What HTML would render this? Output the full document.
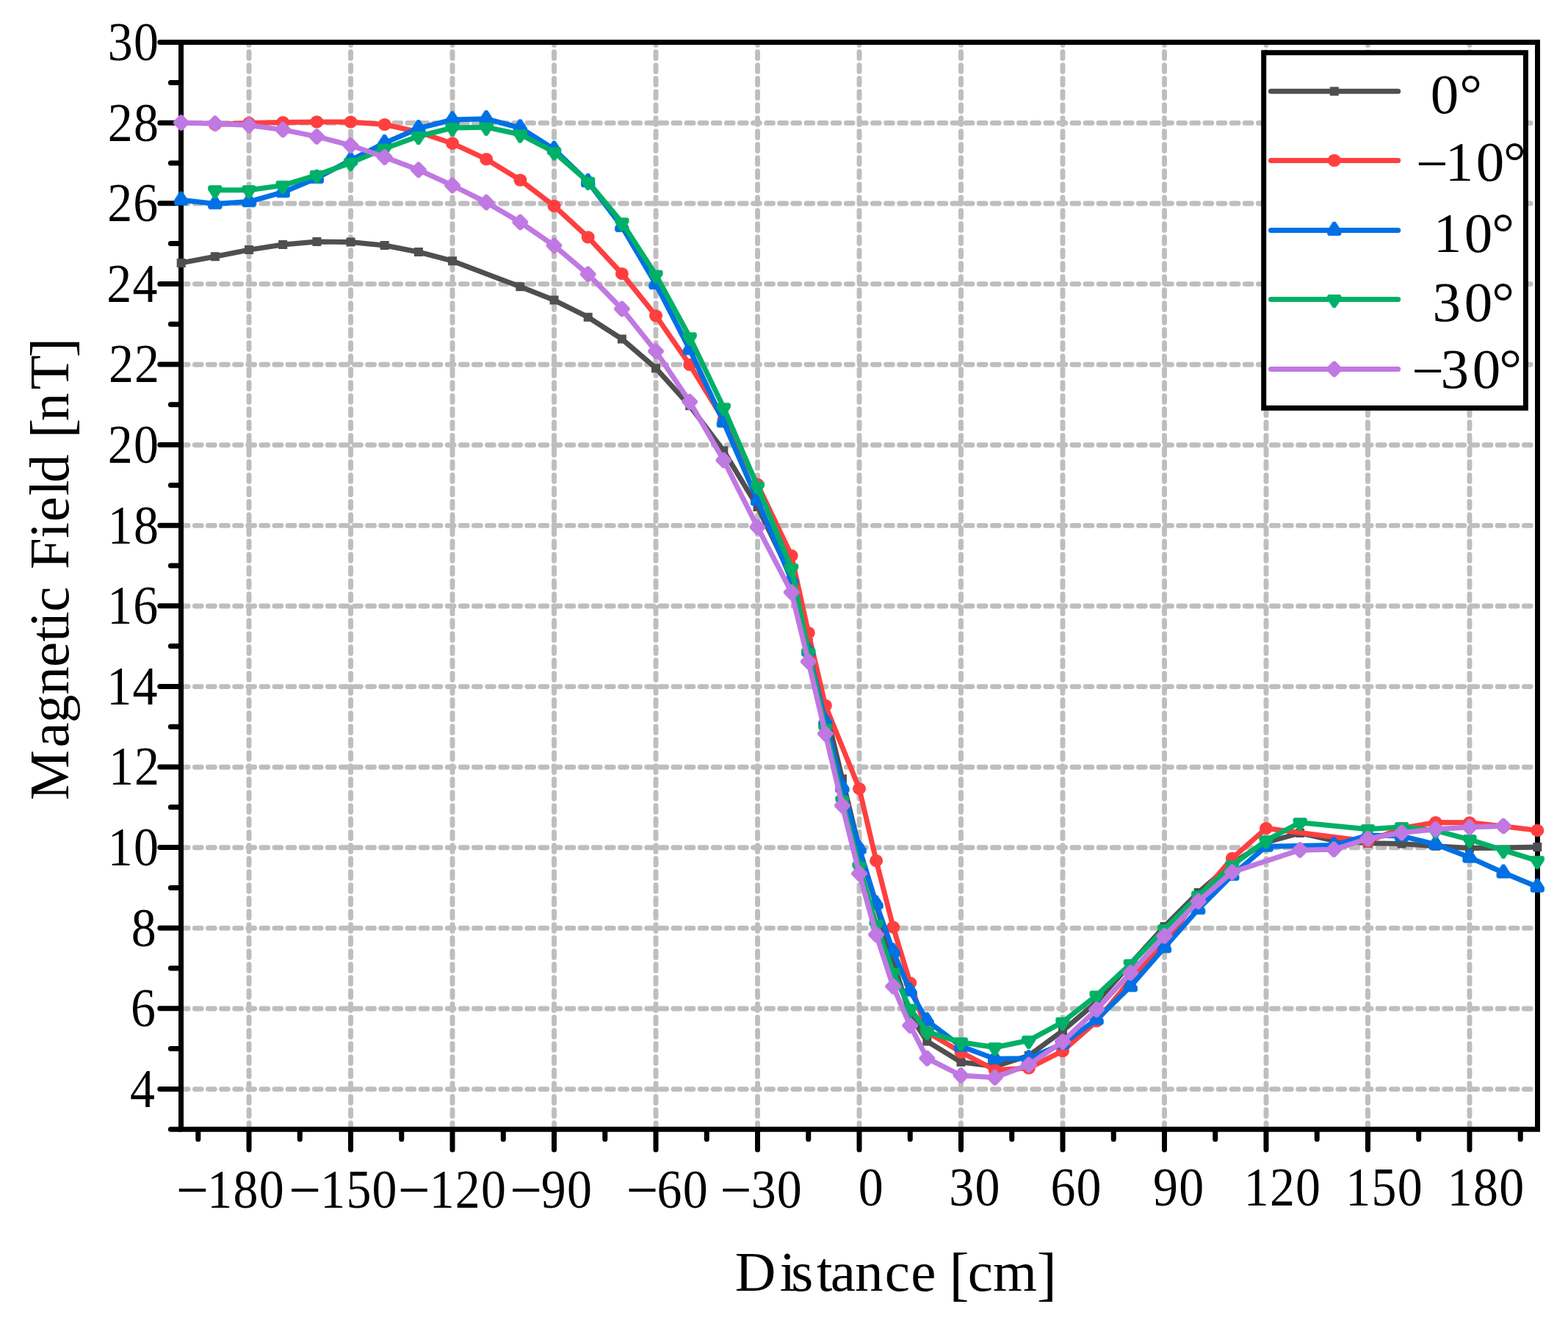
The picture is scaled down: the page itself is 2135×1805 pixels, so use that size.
<!DOCTYPE html>
<html lang="en"><head><meta charset="utf-8"><title>Magnetic Field vs Distance</title>
<style>html,body{margin:0;padding:0;background:#fff}body{width:2135px;height:1805px;overflow:hidden}svg{display:block}text{font-family:"Liberation Serif","Times New Roman",serif;fill:#000;white-space:pre}</style>
</head><body>
<svg width="2135" height="1805" viewBox="0 0 2135 1805" role="img" aria-label="Magnetic Field [nT] versus Distance [cm]">
<rect width="2135" height="1805" fill="#fff"/>
<defs><clipPath id="plot"><rect x="246.5" y="57.6" width="1847" height="1479.6"/></clipPath></defs>
<g clip-path="url(#plot)" stroke="#bebebe" stroke-width="6.9" stroke-linecap="round" fill="none">
<path stroke-dasharray="8.8 9.2" d="M339.03 52.6V1537.2"/>
<path stroke-dasharray="8.8 9.2" d="M477.52 52.6V1537.2"/>
<path stroke-dasharray="8.8 9.2" d="M616.02 52.6V1537.2"/>
<path stroke-dasharray="8.8 9.2" d="M754.51 52.6V1537.2"/>
<path stroke-dasharray="8.8 9.2" d="M893.01 52.6V1537.2"/>
<path stroke-dasharray="8.8 9.2" d="M1031.51 52.6V1537.2"/>
<path stroke-dasharray="8.8 9.2" d="M1170 52.6V1537.2"/>
<path stroke-dasharray="8.8 9.2" d="M1308.49 52.6V1537.2"/>
<path stroke-dasharray="8.8 9.2" d="M1446.99 52.6V1537.2"/>
<path stroke-dasharray="8.8 9.2" d="M1585.49 52.6V1537.2"/>
<path stroke-dasharray="8.8 9.2" d="M1723.98 52.6V1537.2"/>
<path stroke-dasharray="8.8 9.2" d="M1862.47 52.6V1537.2"/>
<path stroke-dasharray="8.8 9.2" d="M2000.97 52.6V1537.2"/>
<path stroke-dasharray="8.9 9.2" d="M247.2 1482.6H2087.5"/>
<path stroke-dasharray="8.9 9.2" d="M247.2 1373H2087.5"/>
<path stroke-dasharray="8.9 9.2" d="M247.2 1263.4H2087.5"/>
<path stroke-dasharray="8.9 9.2" d="M247.2 1153.8H2087.5"/>
<path stroke-dasharray="8.9 9.2" d="M247.2 1044.2H2087.5"/>
<path stroke-dasharray="8.9 9.2" d="M247.2 934.6H2087.5"/>
<path stroke-dasharray="8.9 9.2" d="M247.2 825H2087.5"/>
<path stroke-dasharray="8.9 9.2" d="M247.2 715.4H2087.5"/>
<path stroke-dasharray="8.9 9.2" d="M247.2 605.8H2087.5"/>
<path stroke-dasharray="8.9 9.2" d="M247.2 496.2H2087.5"/>
<path stroke-dasharray="8.9 9.2" d="M247.2 386.6H2087.5"/>
<path stroke-dasharray="8.9 9.2" d="M247.2 277H2087.5"/>
<path stroke-dasharray="8.9 9.2" d="M247.2 167.4H2087.5"/>
</g>
<g stroke="#000" stroke-width="7" stroke-linecap="round" stroke-linejoin="miter" fill="none">
<path d="M246.5 57.6V1537.2H2093.5V57.6z"/>
<path d="M245.5 1482.4H217.8M245.5 1372.8H217.8M245.5 1263.2H217.8M245.5 1153.6H217.8M245.5 1044H217.8M245.5 934.4H217.8M245.5 824.8H217.8M245.5 715.2H217.8M245.5 605.6H217.8M245.5 496H217.8M245.5 386.4H217.8M245.5 276.8H217.8M245.5 167.2H217.8M245.5 57.6H217.8M245.5 1537.2H232.4M245.5 1427.6H232.4M245.5 1318H232.4M245.5 1208.4H232.4M245.5 1098.8H232.4M245.5 989.2H232.4M245.5 879.6H232.4M245.5 770H232.4M245.5 660.4H232.4M245.5 550.8H232.4M245.5 441.2H232.4M245.5 331.6H232.4M245.5 222H232.4M245.5 112.4H232.4M339.03 1538.2V1565.1M477.52 1538.2V1565.1M616.02 1538.2V1565.1M754.51 1538.2V1565.1M893.01 1538.2V1565.1M1031.51 1538.2V1565.1M1170 1538.2V1565.1M1308.49 1538.2V1565.1M1446.99 1538.2V1565.1M1585.49 1538.2V1565.1M1723.98 1538.2V1565.1M1862.47 1538.2V1565.1M2000.97 1538.2V1565.1M269.78 1538.2V1550.8M408.28 1538.2V1550.8M546.77 1538.2V1550.8M685.27 1538.2V1550.8M823.76 1538.2V1550.8M962.26 1538.2V1550.8M1100.75 1538.2V1550.8M1239.25 1538.2V1550.8M1377.74 1538.2V1550.8M1516.24 1538.2V1550.8M1654.73 1538.2V1550.8M1793.23 1538.2V1550.8M1931.72 1538.2V1550.8M2070.22 1538.2V1550.8"/>
</g>
<g fill="#4f4f4f" stroke="#4f4f4f" stroke-linejoin="round" stroke-linecap="round">
<polyline fill="none" stroke-width="7" points="246.7,357.9 292.86,349.2 339.03,340.1 385.19,333 431.36,329.1 477.52,329.5 523.69,334 569.86,343 616.02,355.2 708.35,390.2 754.51,408.6 800.68,431.7 846.85,461.5 893.01,501.2 939.17,552.3 985.34,613.6 1031.51,690 1077.67,785 1100.75,875 1123.84,965 1146.92,1060.2 1170,1155 1193.08,1232 1216.16,1309 1239.25,1382 1262.33,1417.5 1308.49,1445.7 1354.66,1451.6 1400.83,1437 1446.99,1403.1 1493.15,1364 1539.32,1312 1585.49,1261.2 1631.65,1214.9 1677.82,1175 1723.98,1146.7 1770.14,1134 1816.31,1144.4 1862.47,1147.7 1908.64,1148.4 1954.81,1151.8 2000.97,1154.5 2047.14,1154 2093.3,1152.9"/>
<path stroke-width="0" d="M240.7 351.9h12v12h-12zM286.86 343.2h12v12h-12zM333.03 334.1h12v12h-12zM379.19 327h12v12h-12zM425.36 323.1h12v12h-12zM471.52 323.5h12v12h-12zM517.69 328h12v12h-12zM563.86 337h12v12h-12zM610.02 349.2h12v12h-12zM702.35 384.2h12v12h-12zM748.51 402.6h12v12h-12zM794.68 425.7h12v12h-12zM840.85 455.5h12v12h-12zM887.01 495.2h12v12h-12zM933.17 546.3h12v12h-12zM979.34 607.6h12v12h-12zM1025.51 684h12v12h-12zM1071.67 779h12v12h-12zM1094.75 869h12v12h-12zM1117.84 959h12v12h-12zM1140.92 1054.2h12v12h-12zM1164 1149h12v12h-12zM1187.08 1226h12v12h-12zM1210.16 1303h12v12h-12zM1233.25 1376h12v12h-12zM1256.33 1411.5h12v12h-12zM1302.49 1439.7h12v12h-12zM1348.66 1445.6h12v12h-12zM1394.83 1431h12v12h-12zM1440.99 1397.1h12v12h-12zM1487.15 1358h12v12h-12zM1533.32 1306h12v12h-12zM1579.49 1255.2h12v12h-12zM1625.65 1208.9h12v12h-12zM1671.82 1169h12v12h-12zM1717.98 1140.7h12v12h-12zM1764.14 1128h12v12h-12zM1810.31 1138.4h12v12h-12zM1856.47 1141.7h12v12h-12zM1902.64 1142.4h12v12h-12zM1948.81 1145.8h12v12h-12zM1994.97 1148.5h12v12h-12zM2087.3 1146.9h12v12h-12z"/>
</g>
<g fill="#ff3f3f" stroke="#ff3f3f" stroke-linejoin="round" stroke-linecap="round">
<polyline fill="none" stroke-width="7" points="292.86,169.5 339.03,167.6 385.19,166.6 431.36,165.9 477.52,166 523.69,169.5 569.86,179.7 616.02,195.2 662.18,216.7 708.35,245.1 754.51,280.4 800.68,322.8 846.85,372.5 893.01,429.8 939.17,496.4 985.34,571.6 1031.51,659.4 1077.67,756.3 1100.75,861.4 1123.84,960.4 1170,1073.5 1193.08,1171.7 1216.16,1262.2 1239.25,1338 1262.33,1405 1308.49,1432.3 1354.66,1456.5 1400.83,1453.9 1446.99,1430.7 1493.15,1390 1539.32,1334 1585.49,1284 1631.65,1222 1677.82,1168.3 1723.98,1127.5 1862.47,1145.2 1908.64,1127.5 1954.81,1119.5 2000.97,1119.8 2047.14,1124.8 2093.3,1130.4"/>
<path stroke-width="0" d="M283.86 169.5a9.0 8.6 0 1 0 18 0a9.0 8.6 0 1 0 -18 0zM330.03 167.6a9.0 8.6 0 1 0 18 0a9.0 8.6 0 1 0 -18 0zM376.19 166.6a9.0 8.6 0 1 0 18 0a9.0 8.6 0 1 0 -18 0zM422.36 165.9a9.0 8.6 0 1 0 18 0a9.0 8.6 0 1 0 -18 0zM468.52 166a9.0 8.6 0 1 0 18 0a9.0 8.6 0 1 0 -18 0zM514.69 169.5a9.0 8.6 0 1 0 18 0a9.0 8.6 0 1 0 -18 0zM560.86 179.7a9.0 8.6 0 1 0 18 0a9.0 8.6 0 1 0 -18 0zM607.02 195.2a9.0 8.6 0 1 0 18 0a9.0 8.6 0 1 0 -18 0zM653.18 216.7a9.0 8.6 0 1 0 18 0a9.0 8.6 0 1 0 -18 0zM699.35 245.1a9.0 8.6 0 1 0 18 0a9.0 8.6 0 1 0 -18 0zM745.51 280.4a9.0 8.6 0 1 0 18 0a9.0 8.6 0 1 0 -18 0zM791.68 322.8a9.0 8.6 0 1 0 18 0a9.0 8.6 0 1 0 -18 0zM837.85 372.5a9.0 8.6 0 1 0 18 0a9.0 8.6 0 1 0 -18 0zM884.01 429.8a9.0 8.6 0 1 0 18 0a9.0 8.6 0 1 0 -18 0zM930.17 496.4a9.0 8.6 0 1 0 18 0a9.0 8.6 0 1 0 -18 0zM976.34 571.6a9.0 8.6 0 1 0 18 0a9.0 8.6 0 1 0 -18 0zM1022.51 659.4a9.0 8.6 0 1 0 18 0a9.0 8.6 0 1 0 -18 0zM1068.67 756.3a9.0 8.6 0 1 0 18 0a9.0 8.6 0 1 0 -18 0zM1091.75 861.4a9.0 8.6 0 1 0 18 0a9.0 8.6 0 1 0 -18 0zM1114.84 960.4a9.0 8.6 0 1 0 18 0a9.0 8.6 0 1 0 -18 0zM1161 1073.5a9.0 8.6 0 1 0 18 0a9.0 8.6 0 1 0 -18 0zM1184.08 1171.7a9.0 8.6 0 1 0 18 0a9.0 8.6 0 1 0 -18 0zM1207.16 1262.2a9.0 8.6 0 1 0 18 0a9.0 8.6 0 1 0 -18 0zM1230.25 1338a9.0 8.6 0 1 0 18 0a9.0 8.6 0 1 0 -18 0zM1253.33 1405a9.0 8.6 0 1 0 18 0a9.0 8.6 0 1 0 -18 0zM1299.49 1432.3a9.0 8.6 0 1 0 18 0a9.0 8.6 0 1 0 -18 0zM1345.66 1456.5a9.0 8.6 0 1 0 18 0a9.0 8.6 0 1 0 -18 0zM1391.83 1453.9a9.0 8.6 0 1 0 18 0a9.0 8.6 0 1 0 -18 0zM1437.99 1430.7a9.0 8.6 0 1 0 18 0a9.0 8.6 0 1 0 -18 0zM1484.15 1390a9.0 8.6 0 1 0 18 0a9.0 8.6 0 1 0 -18 0zM1530.32 1334a9.0 8.6 0 1 0 18 0a9.0 8.6 0 1 0 -18 0zM1576.49 1284a9.0 8.6 0 1 0 18 0a9.0 8.6 0 1 0 -18 0zM1622.65 1222a9.0 8.6 0 1 0 18 0a9.0 8.6 0 1 0 -18 0zM1668.82 1168.3a9.0 8.6 0 1 0 18 0a9.0 8.6 0 1 0 -18 0zM1714.98 1127.5a9.0 8.6 0 1 0 18 0a9.0 8.6 0 1 0 -18 0zM1853.47 1145.2a9.0 8.6 0 1 0 18 0a9.0 8.6 0 1 0 -18 0zM1899.64 1127.5a9.0 8.6 0 1 0 18 0a9.0 8.6 0 1 0 -18 0zM1945.81 1119.5a9.0 8.6 0 1 0 18 0a9.0 8.6 0 1 0 -18 0zM1991.97 1119.8a9.0 8.6 0 1 0 18 0a9.0 8.6 0 1 0 -18 0zM2038.14 1124.8a9.0 8.6 0 1 0 18 0a9.0 8.6 0 1 0 -18 0zM2084.3 1130.4a9.0 8.6 0 1 0 18 0a9.0 8.6 0 1 0 -18 0z"/>
</g>
<g fill="#0070e4" stroke="#0070e4" stroke-linejoin="round" stroke-linecap="round">
<polyline fill="none" stroke-width="7" points="246.7,272.1 292.86,277.5 339.03,274.6 385.19,261.7 431.36,242.4 477.52,218.1 523.69,194.6 569.86,174.7 616.02,163 662.18,161.8 708.35,174 754.51,203.3 800.68,247.6 846.85,308.5 893.01,386.6 939.17,475.8 985.34,574.7 1031.51,681 1077.67,789.3 1100.75,886.2 1123.84,982.3 1146.92,1071.8 1170,1155.1 1193.08,1230.1 1216.16,1295.1 1239.25,1349 1262.33,1389.5 1308.49,1424.2 1354.66,1441.3 1400.83,1440.7 1446.99,1420.9 1493.15,1387.7 1539.32,1342.8 1585.49,1289.8 1631.65,1237.5 1677.82,1191.3 1723.98,1152.2 1816.31,1150.5 1862.47,1137 1908.64,1138.1 1954.81,1149.3 2000.97,1167.1 2047.14,1188.1 2093.3,1207.3"/>
<path stroke-width="0.8" d="M245.1 260.9L248.3 260.9L255.9 272.7L255.9 277.7L254.3 279.2L239.1 279.2L237.5 277.7L237.5 272.7zM291.26 266.3L294.46 266.3L302.06 278.1L302.06 283.1L300.46 284.6L285.26 284.6L283.66 283.1L283.66 278.1zM337.43 263.4L340.63 263.4L348.23 275.2L348.23 280.2L346.63 281.7L331.43 281.7L329.83 280.2L329.83 275.2zM383.59 250.5L386.79 250.5L394.39 262.3L394.39 267.3L392.79 268.8L377.59 268.8L375.99 267.3L375.99 262.3zM429.76 231.2L432.96 231.2L440.56 243L440.56 248L438.96 249.5L423.76 249.5L422.16 248L422.16 243zM475.92 206.9L479.12 206.9L486.72 218.7L486.72 223.7L485.12 225.2L469.92 225.2L468.32 223.7L468.32 218.7zM522.09 183.4L525.29 183.4L532.89 195.2L532.89 200.2L531.29 201.7L516.09 201.7L514.49 200.2L514.49 195.2zM568.25 163.5L571.46 163.5L579.06 175.3L579.06 180.3L577.46 181.8L562.25 181.8L560.65 180.3L560.65 175.3zM614.42 151.8L617.62 151.8L625.22 163.6L625.22 168.6L623.62 170.1L608.42 170.1L606.82 168.6L606.82 163.6zM660.58 150.6L663.78 150.6L671.38 162.4L671.38 167.4L669.78 168.9L654.58 168.9L652.98 167.4L652.98 162.4zM706.75 162.8L709.95 162.8L717.55 174.6L717.55 179.6L715.95 181.1L700.75 181.1L699.15 179.6L699.15 174.6zM752.91 192.1L756.12 192.1L763.72 203.9L763.72 208.9L762.12 210.4L746.91 210.4L745.31 208.9L745.31 203.9zM799.08 236.4L802.28 236.4L809.88 248.2L809.88 253.2L808.28 254.7L793.08 254.7L791.48 253.2L791.48 248.2zM845.25 297.3L848.45 297.3L856.05 309.1L856.05 314.1L854.45 315.6L839.25 315.6L837.64 314.1L837.64 309.1zM891.41 375.4L894.61 375.4L902.21 387.2L902.21 392.2L900.61 393.7L885.41 393.7L883.81 392.2L883.81 387.2zM937.57 464.6L940.77 464.6L948.38 476.4L948.38 481.4L946.77 482.9L931.57 482.9L929.97 481.4L929.97 476.4zM983.74 563.5L986.94 563.5L994.54 575.3L994.54 580.3L992.94 581.8L977.74 581.8L976.14 580.3L976.14 575.3zM1029.91 669.8L1033.11 669.8L1040.71 681.6L1040.71 686.6L1039.11 688.1L1023.91 688.1L1022.31 686.6L1022.31 681.6zM1076.07 778.1L1079.27 778.1L1086.87 789.9L1086.87 794.9L1085.27 796.4L1070.07 796.4L1068.47 794.9L1068.47 789.9zM1099.15 875L1102.35 875L1109.95 886.8L1109.95 891.8L1108.35 893.3L1093.15 893.3L1091.55 891.8L1091.55 886.8zM1122.24 971.1L1125.43 971.1L1133.04 982.9L1133.04 987.9L1131.43 989.4L1116.24 989.4L1114.63 987.9L1114.63 982.9zM1145.32 1060.6L1148.52 1060.6L1156.12 1072.4L1156.12 1077.4L1154.52 1078.9L1139.32 1078.9L1137.72 1077.4L1137.72 1072.4zM1168.4 1143.9L1171.6 1143.9L1179.2 1155.7L1179.2 1160.7L1177.6 1162.2L1162.4 1162.2L1160.8 1160.7L1160.8 1155.7zM1191.48 1218.9L1194.68 1218.9L1202.28 1230.7L1202.28 1235.7L1200.68 1237.2L1185.48 1237.2L1183.88 1235.7L1183.88 1230.7zM1214.57 1283.9L1217.76 1283.9L1225.37 1295.7L1225.37 1300.7L1223.76 1302.2L1208.57 1302.2L1206.96 1300.7L1206.96 1295.7zM1237.65 1337.8L1240.85 1337.8L1248.45 1349.6L1248.45 1354.6L1246.85 1356.1L1231.65 1356.1L1230.05 1354.6L1230.05 1349.6zM1260.73 1378.3L1263.93 1378.3L1271.53 1390.1L1271.53 1395.1L1269.93 1396.6L1254.73 1396.6L1253.13 1395.1L1253.13 1390.1zM1306.89 1413L1310.09 1413L1317.69 1424.8L1317.69 1429.8L1316.09 1431.3L1300.89 1431.3L1299.29 1429.8L1299.29 1424.8zM1353.06 1430.1L1356.26 1430.1L1363.86 1441.9L1363.86 1446.9L1362.26 1448.4L1347.06 1448.4L1345.46 1446.9L1345.46 1441.9zM1399.23 1429.5L1402.42 1429.5L1410.03 1441.3L1410.03 1446.3L1408.42 1447.8L1393.23 1447.8L1391.62 1446.3L1391.62 1441.3zM1445.39 1409.7L1448.59 1409.7L1456.19 1421.5L1456.19 1426.5L1454.59 1428L1439.39 1428L1437.79 1426.5L1437.79 1421.5zM1491.56 1376.5L1494.75 1376.5L1502.36 1388.3L1502.36 1393.3L1500.75 1394.8L1485.56 1394.8L1483.95 1393.3L1483.95 1388.3zM1537.72 1331.6L1540.92 1331.6L1548.52 1343.4L1548.52 1348.4L1546.92 1349.9L1531.72 1349.9L1530.12 1348.4L1530.12 1343.4zM1583.89 1278.6L1587.09 1278.6L1594.69 1290.4L1594.69 1295.4L1593.09 1296.9L1577.89 1296.9L1576.29 1295.4L1576.29 1290.4zM1630.05 1226.3L1633.25 1226.3L1640.85 1238.1L1640.85 1243.1L1639.25 1244.6L1624.05 1244.6L1622.45 1243.1L1622.45 1238.1zM1676.22 1180.1L1679.41 1180.1L1687.02 1191.9L1687.02 1196.9L1685.41 1198.4L1670.22 1198.4L1668.62 1196.9L1668.62 1191.9zM1722.38 1141L1725.58 1141L1733.18 1152.8L1733.18 1157.8L1731.58 1159.3L1716.38 1159.3L1714.78 1157.8L1714.78 1152.8zM1814.71 1139.3L1817.91 1139.3L1825.51 1151.1L1825.51 1156.1L1823.91 1157.6L1808.71 1157.6L1807.11 1156.1L1807.11 1151.1zM1860.88 1125.8L1864.07 1125.8L1871.67 1137.6L1871.67 1142.6L1870.07 1144.1L1854.88 1144.1L1853.27 1142.6L1853.27 1137.6zM1907.04 1126.9L1910.24 1126.9L1917.84 1138.7L1917.84 1143.7L1916.24 1145.2L1901.04 1145.2L1899.44 1143.7L1899.44 1138.7zM1953.21 1138.1L1956.4 1138.1L1964.01 1149.9L1964.01 1154.9L1962.4 1156.4L1947.21 1156.4L1945.61 1154.9L1945.61 1149.9zM1999.37 1155.9L2002.57 1155.9L2010.17 1167.7L2010.17 1172.7L2008.57 1174.2L1993.37 1174.2L1991.77 1172.7L1991.77 1167.7zM2045.54 1176.9L2048.74 1176.9L2056.34 1188.7L2056.34 1193.7L2054.74 1195.2L2039.54 1195.2L2037.94 1193.7L2037.94 1188.7zM2091.7 1196.1L2094.9 1196.1L2102.5 1207.9L2102.5 1212.9L2100.9 1214.4L2085.7 1214.4L2084.1 1212.9L2084.1 1207.9z"/>
</g>
<g fill="#00b066" stroke="#00b066" stroke-linejoin="round" stroke-linecap="round">
<polyline fill="none" stroke-width="7" points="292.86,258.8 339.03,258.8 385.19,252.4 431.36,238.3 477.52,221.6 523.69,202.3 569.86,185.5 616.02,174 662.18,173.2 708.35,183 754.51,206.9 800.68,247.4 846.85,302.9 893.01,374.2 939.17,459 985.34,555 1031.51,662.2 1077.67,773.7 1100.75,888.7 1123.84,991.7 1146.92,1089.7 1170,1179.7 1193.08,1258.6 1216.16,1324 1239.25,1373.2 1262.33,1404.5 1308.49,1418.8 1354.66,1425.8 1400.83,1416.3 1446.99,1391.3 1493.15,1355.1 1539.32,1312.2 1585.49,1265 1631.65,1219.2 1677.82,1178 1723.98,1144 1770.14,1119.7 1862.47,1128.7 1908.64,1125.7 1954.81,1130.7 2000.97,1142.8 2047.14,1157.3 2093.3,1171.6"/>
<path stroke-width="0.8" d="M291.26 270L294.46 270L302.06 258.4L302.06 254L300.66 252.6L285.06 252.6L283.66 254L283.66 258.4zM337.43 270L340.63 270L348.23 258.4L348.23 254L346.83 252.6L331.23 252.6L329.83 254L329.83 258.4zM383.59 263.6L386.79 263.6L394.39 252L394.39 247.6L392.99 246.2L377.39 246.2L375.99 247.6L375.99 252zM429.76 249.5L432.96 249.5L440.56 237.9L440.56 233.5L439.16 232.1L423.56 232.1L422.16 233.5L422.16 237.9zM475.92 232.8L479.12 232.8L486.72 221.2L486.72 216.8L485.32 215.4L469.72 215.4L468.32 216.8L468.32 221.2zM522.09 213.5L525.29 213.5L532.89 201.9L532.89 197.5L531.49 196.1L515.89 196.1L514.49 197.5L514.49 201.9zM568.25 196.7L571.46 196.7L579.06 185.1L579.06 180.7L577.65 179.3L562.06 179.3L560.65 180.7L560.65 185.1zM614.42 185.2L617.62 185.2L625.22 173.6L625.22 169.2L623.82 167.8L608.22 167.8L606.82 169.2L606.82 173.6zM660.58 184.4L663.78 184.4L671.38 172.8L671.38 168.4L669.98 167L654.38 167L652.98 168.4L652.98 172.8zM706.75 194.2L709.95 194.2L717.55 182.6L717.55 178.2L716.15 176.8L700.55 176.8L699.15 178.2L699.15 182.6zM752.91 218.1L756.12 218.1L763.72 206.5L763.72 202.1L762.31 200.7L746.72 200.7L745.31 202.1L745.31 206.5zM799.08 258.6L802.28 258.6L809.88 247L809.88 242.6L808.48 241.2L792.88 241.2L791.48 242.6L791.48 247zM845.25 314.1L848.45 314.1L856.05 302.5L856.05 298.1L854.64 296.7L839.05 296.7L837.64 298.1L837.64 302.5zM891.41 385.4L894.61 385.4L902.21 373.8L902.21 369.4L900.81 368L885.21 368L883.81 369.4L883.81 373.8zM937.57 470.2L940.77 470.2L948.38 458.6L948.38 454.2L946.97 452.8L931.38 452.8L929.97 454.2L929.97 458.6zM983.74 566.2L986.94 566.2L994.54 554.6L994.54 550.2L993.14 548.8L977.54 548.8L976.14 550.2L976.14 554.6zM1029.91 673.4L1033.11 673.4L1040.71 661.8L1040.71 657.4L1039.31 656L1023.71 656L1022.31 657.4L1022.31 661.8zM1076.07 784.9L1079.27 784.9L1086.87 773.3L1086.87 768.9L1085.47 767.5L1069.87 767.5L1068.47 768.9L1068.47 773.3zM1099.15 899.9L1102.35 899.9L1109.95 888.3L1109.95 883.9L1108.55 882.5L1092.95 882.5L1091.55 883.9L1091.55 888.3zM1122.24 1002.9L1125.43 1002.9L1133.04 991.3L1133.04 986.9L1131.63 985.5L1116.04 985.5L1114.63 986.9L1114.63 991.3zM1145.32 1100.9L1148.52 1100.9L1156.12 1089.3L1156.12 1084.9L1154.72 1083.5L1139.12 1083.5L1137.72 1084.9L1137.72 1089.3zM1168.4 1190.9L1171.6 1190.9L1179.2 1179.3L1179.2 1174.9L1177.8 1173.5L1162.2 1173.5L1160.8 1174.9L1160.8 1179.3zM1191.48 1269.8L1194.68 1269.8L1202.28 1258.2L1202.28 1253.8L1200.88 1252.4L1185.28 1252.4L1183.88 1253.8L1183.88 1258.2zM1214.57 1335.2L1217.76 1335.2L1225.37 1323.6L1225.37 1319.2L1223.96 1317.8L1208.37 1317.8L1206.96 1319.2L1206.96 1323.6zM1237.65 1384.4L1240.85 1384.4L1248.45 1372.8L1248.45 1368.4L1247.05 1367L1231.45 1367L1230.05 1368.4L1230.05 1372.8zM1260.73 1415.7L1263.93 1415.7L1271.53 1404.1L1271.53 1399.7L1270.13 1398.3L1254.53 1398.3L1253.13 1399.7L1253.13 1404.1zM1306.89 1430L1310.09 1430L1317.69 1418.4L1317.69 1414L1316.29 1412.6L1300.69 1412.6L1299.29 1414L1299.29 1418.4zM1353.06 1437L1356.26 1437L1363.86 1425.4L1363.86 1421L1362.46 1419.6L1346.86 1419.6L1345.46 1421L1345.46 1425.4zM1399.23 1427.5L1402.42 1427.5L1410.03 1415.9L1410.03 1411.5L1408.62 1410.1L1393.03 1410.1L1391.62 1411.5L1391.62 1415.9zM1445.39 1402.5L1448.59 1402.5L1456.19 1390.9L1456.19 1386.5L1454.79 1385.1L1439.19 1385.1L1437.79 1386.5L1437.79 1390.9zM1491.56 1366.3L1494.75 1366.3L1502.36 1354.7L1502.36 1350.3L1500.95 1348.9L1485.36 1348.9L1483.95 1350.3L1483.95 1354.7zM1537.72 1323.4L1540.92 1323.4L1548.52 1311.8L1548.52 1307.4L1547.12 1306L1531.52 1306L1530.12 1307.4L1530.12 1311.8zM1583.89 1276.2L1587.09 1276.2L1594.69 1264.6L1594.69 1260.2L1593.29 1258.8L1577.69 1258.8L1576.29 1260.2L1576.29 1264.6zM1630.05 1230.4L1633.25 1230.4L1640.85 1218.8L1640.85 1214.4L1639.45 1213L1623.85 1213L1622.45 1214.4L1622.45 1218.8zM1676.22 1189.2L1679.41 1189.2L1687.02 1177.6L1687.02 1173.2L1685.62 1171.8L1670.02 1171.8L1668.62 1173.2L1668.62 1177.6zM1722.38 1155.2L1725.58 1155.2L1733.18 1143.6L1733.18 1139.2L1731.78 1137.8L1716.18 1137.8L1714.78 1139.2L1714.78 1143.6zM1768.55 1130.9L1771.74 1130.9L1779.35 1119.3L1779.35 1114.9L1777.94 1113.5L1762.35 1113.5L1760.94 1114.9L1760.94 1119.3zM1860.88 1139.9L1864.07 1139.9L1871.67 1128.3L1871.67 1123.9L1870.27 1122.5L1854.67 1122.5L1853.27 1123.9L1853.27 1128.3zM1907.04 1136.9L1910.24 1136.9L1917.84 1125.3L1917.84 1120.9L1916.44 1119.5L1900.84 1119.5L1899.44 1120.9L1899.44 1125.3zM1953.21 1141.9L1956.4 1141.9L1964.01 1130.3L1964.01 1125.9L1962.61 1124.5L1947.01 1124.5L1945.61 1125.9L1945.61 1130.3zM1999.37 1154L2002.57 1154L2010.17 1142.4L2010.17 1138L2008.77 1136.6L1993.17 1136.6L1991.77 1138L1991.77 1142.4zM2045.54 1168.5L2048.74 1168.5L2056.34 1156.9L2056.34 1152.5L2054.94 1151.1L2039.34 1151.1L2037.94 1152.5L2037.94 1156.9zM2091.7 1182.8L2094.9 1182.8L2102.5 1171.2L2102.5 1166.8L2101.1 1165.4L2085.5 1165.4L2084.1 1166.8L2084.1 1171.2z"/>
</g>
<g fill="#c078e2" stroke="#c078e2" stroke-linejoin="round" stroke-linecap="round">
<polyline fill="none" stroke-width="7" points="246.7,167 292.86,168.2 339.03,170.5 385.19,176.6 431.36,185.9 477.52,197.9 523.69,213.9 569.86,231.2 616.02,252.4 662.18,275.5 708.35,302.5 754.51,334.3 800.68,373.3 846.85,420.5 893.01,478.1 939.17,546.9 985.34,626.5 1031.51,717.6 1077.67,806.2 1100.75,900.6 1123.84,998.7 1146.92,1096.6 1170,1189.2 1193.08,1272.3 1216.16,1342.8 1239.25,1396 1262.33,1440.6 1308.49,1464 1354.66,1466.7 1400.83,1449.4 1446.99,1417.9 1493.15,1374.2 1539.32,1324.3 1585.49,1274.1 1631.65,1227 1677.82,1187.2 1770.14,1157 1816.31,1156.3 1862.47,1141.7 1908.64,1133.5 1954.81,1128.8 2000.97,1126.1 2047.14,1124.5"/>
<path stroke-width="0.6" d="M245.2 156.5L248.2 156.5L257.2 165.7L257.2 168.3L248.3 177.5L245.1 177.5L236.2 168.3L236.2 165.7zM291.36 157.7L294.36 157.7L303.36 166.9L303.36 169.5L294.46 178.7L291.26 178.7L282.36 169.5L282.36 166.9zM337.53 160L340.53 160L349.53 169.2L349.53 171.8L340.63 181L337.43 181L328.53 171.8L328.53 169.2zM383.69 166.1L386.69 166.1L395.69 175.3L395.69 177.9L386.79 187.1L383.59 187.1L374.69 177.9L374.69 175.3zM429.86 175.4L432.86 175.4L441.86 184.6L441.86 187.2L432.96 196.4L429.76 196.4L420.86 187.2L420.86 184.6zM476.02 187.4L479.02 187.4L488.02 196.6L488.02 199.2L479.12 208.4L475.92 208.4L467.02 199.2L467.02 196.6zM522.19 203.4L525.19 203.4L534.19 212.6L534.19 215.2L525.29 224.4L522.09 224.4L513.19 215.2L513.19 212.6zM568.36 220.7L571.36 220.7L580.36 229.9L580.36 232.5L571.46 241.7L568.25 241.7L559.36 232.5L559.36 229.9zM614.52 241.9L617.52 241.9L626.52 251.1L626.52 253.7L617.62 262.9L614.42 262.9L605.52 253.7L605.52 251.1zM660.68 265L663.68 265L672.68 274.2L672.68 276.8L663.78 286L660.58 286L651.68 276.8L651.68 274.2zM706.85 292L709.85 292L718.85 301.2L718.85 303.8L709.95 313L706.75 313L697.85 303.8L697.85 301.2zM753.01 323.8L756.01 323.8L765.01 333L765.01 335.6L756.12 344.8L752.91 344.8L744.01 335.6L744.01 333zM799.18 362.8L802.18 362.8L811.18 372L811.18 374.6L802.28 383.8L799.08 383.8L790.18 374.6L790.18 372zM845.35 410L848.35 410L857.35 419.2L857.35 421.8L848.45 431L845.25 431L836.35 421.8L836.35 419.2zM891.51 467.6L894.51 467.6L903.51 476.8L903.51 479.4L894.61 488.6L891.41 488.6L882.51 479.4L882.51 476.8zM937.67 536.4L940.67 536.4L949.67 545.6L949.67 548.2L940.77 557.4L937.57 557.4L928.67 548.2L928.67 545.6zM983.84 616L986.84 616L995.84 625.2L995.84 627.8L986.94 637L983.74 637L974.84 627.8L974.84 625.2zM1030.01 707.1L1033.01 707.1L1042.01 716.3L1042.01 718.9L1033.11 728.1L1029.91 728.1L1021.01 718.9L1021.01 716.3zM1076.17 795.7L1079.17 795.7L1088.17 804.9L1088.17 807.5L1079.27 816.7L1076.07 816.7L1067.17 807.5L1067.17 804.9zM1099.25 890.1L1102.25 890.1L1111.25 899.3L1111.25 901.9L1102.35 911.1L1099.15 911.1L1090.25 901.9L1090.25 899.3zM1122.34 988.2L1125.34 988.2L1134.34 997.4L1134.34 1000L1125.43 1009.2L1122.24 1009.2L1113.34 1000L1113.34 997.4zM1145.42 1086.1L1148.42 1086.1L1157.42 1095.3L1157.42 1097.9L1148.52 1107.1L1145.32 1107.1L1136.42 1097.9L1136.42 1095.3zM1168.5 1178.7L1171.5 1178.7L1180.5 1187.9L1180.5 1190.5L1171.6 1199.7L1168.4 1199.7L1159.5 1190.5L1159.5 1187.9zM1191.58 1261.8L1194.58 1261.8L1203.58 1271L1203.58 1273.6L1194.68 1282.8L1191.48 1282.8L1182.58 1273.6L1182.58 1271zM1214.66 1332.3L1217.66 1332.3L1226.66 1341.5L1226.66 1344.1L1217.76 1353.3L1214.57 1353.3L1205.66 1344.1L1205.66 1341.5zM1237.75 1385.5L1240.75 1385.5L1249.75 1394.7L1249.75 1397.3L1240.85 1406.5L1237.65 1406.5L1228.75 1397.3L1228.75 1394.7zM1260.83 1430.1L1263.83 1430.1L1272.83 1439.3L1272.83 1441.9L1263.93 1451.1L1260.73 1451.1L1251.83 1441.9L1251.83 1439.3zM1306.99 1453.5L1309.99 1453.5L1318.99 1462.7L1318.99 1465.3L1310.09 1474.5L1306.89 1474.5L1297.99 1465.3L1297.99 1462.7zM1353.16 1456.2L1356.16 1456.2L1365.16 1465.4L1365.16 1468L1356.26 1477.2L1353.06 1477.2L1344.16 1468L1344.16 1465.4zM1399.33 1438.9L1402.33 1438.9L1411.33 1448.1L1411.33 1450.7L1402.42 1459.9L1399.23 1459.9L1390.33 1450.7L1390.33 1448.1zM1445.49 1407.4L1448.49 1407.4L1457.49 1416.6L1457.49 1419.2L1448.59 1428.4L1445.39 1428.4L1436.49 1419.2L1436.49 1416.6zM1491.65 1363.7L1494.65 1363.7L1503.65 1372.9L1503.65 1375.5L1494.75 1384.7L1491.56 1384.7L1482.65 1375.5L1482.65 1372.9zM1537.82 1313.8L1540.82 1313.8L1549.82 1323L1549.82 1325.6L1540.92 1334.8L1537.72 1334.8L1528.82 1325.6L1528.82 1323zM1583.99 1263.6L1586.99 1263.6L1595.99 1272.8L1595.99 1275.4L1587.09 1284.6L1583.89 1284.6L1574.99 1275.4L1574.99 1272.8zM1630.15 1216.5L1633.15 1216.5L1642.15 1225.7L1642.15 1228.3L1633.25 1237.5L1630.05 1237.5L1621.15 1228.3L1621.15 1225.7zM1676.32 1176.7L1679.32 1176.7L1688.32 1185.9L1688.32 1188.5L1679.41 1197.7L1676.22 1197.7L1667.32 1188.5L1667.32 1185.9zM1768.64 1146.5L1771.64 1146.5L1780.64 1155.7L1780.64 1158.3L1771.74 1167.5L1768.55 1167.5L1759.64 1158.3L1759.64 1155.7zM1814.81 1145.8L1817.81 1145.8L1826.81 1155L1826.81 1157.6L1817.91 1166.8L1814.71 1166.8L1805.81 1157.6L1805.81 1155zM1860.97 1131.2L1863.97 1131.2L1872.97 1140.4L1872.97 1143L1864.07 1152.2L1860.88 1152.2L1851.97 1143L1851.97 1140.4zM1907.14 1123L1910.14 1123L1919.14 1132.2L1919.14 1134.8L1910.24 1144L1907.04 1144L1898.14 1134.8L1898.14 1132.2zM1953.31 1118.3L1956.31 1118.3L1965.31 1127.5L1965.31 1130.1L1956.4 1139.3L1953.21 1139.3L1944.31 1130.1L1944.31 1127.5zM1999.47 1115.6L2002.47 1115.6L2011.47 1124.8L2011.47 1127.4L2002.57 1136.6L1999.37 1136.6L1990.47 1127.4L1990.47 1124.8zM2045.64 1114L2048.64 1114L2057.64 1123.2L2057.64 1125.8L2048.74 1135L2045.54 1135L2036.64 1125.8L2036.64 1123.2z"/>
</g>
<rect x="1720.7" y="71.7" width="356.7" height="483.7" fill="#fff" stroke="#000" stroke-width="7" stroke-linejoin="miter"/>
<g fill="#4f4f4f" stroke="#4f4f4f" stroke-linejoin="round" stroke-linecap="round">
<path fill="none" stroke-width="7" d="M1730.5 124.3H1903.7"/>
<path stroke-width="0" d="M1810.8 118.3h12v12h-12z"/>
</g>
<g fill="#ff3f3f" stroke="#ff3f3f" stroke-linejoin="round" stroke-linecap="round">
<path fill="none" stroke-width="7" d="M1730.5 218.4H1903.7"/>
<path stroke-width="0" d="M1807.8 218.4a9.0 8.6 0 1 0 18 0a9.0 8.6 0 1 0 -18 0z"/>
</g>
<g fill="#0070e4" stroke="#0070e4" stroke-linejoin="round" stroke-linecap="round">
<path fill="none" stroke-width="7" d="M1730.5 313.4H1903.7"/>
<path stroke-width="0.8" d="M1815.2 302.2L1818.4 302.2L1826 314L1826 319L1824.4 320.5L1809.2 320.5L1807.6 319L1807.6 314z"/>
</g>
<g fill="#00b066" stroke="#00b066" stroke-linejoin="round" stroke-linecap="round">
<path fill="none" stroke-width="7" d="M1730.5 407.5H1903.7"/>
<path stroke-width="0.8" d="M1815.2 418.7L1818.4 418.7L1826 407.1L1826 402.7L1824.6 401.3L1809 401.3L1807.6 402.7L1807.6 407.1z"/>
</g>
<g fill="#c078e2" stroke="#c078e2" stroke-linejoin="round" stroke-linecap="round">
<path fill="none" stroke-width="7" d="M1730.5 502.5H1903.7"/>
<path stroke-width="0.6" d="M1815.3 492L1818.3 492L1827.3 501.2L1827.3 503.8L1818.4 513L1815.2 513L1806.3 503.8L1806.3 501.2z"/>
</g>
<text font-size="73" transform="scale(0.93 1)"><tspan x="190.45" y="1506.84">4</tspan></text>
<text font-size="73" transform="scale(0.93 1)"><tspan x="191.48" y="1397.24">6</tspan></text>
<text font-size="73" transform="scale(0.93 1)"><tspan x="192.09" y="1287.64">8</tspan></text>
<text font-size="73" transform="scale(0.93 1)"><tspan x="157.79" y="1178.04">1</tspan><tspan x="195.64" y="1178.04">0</tspan></text>
<text font-size="73" transform="scale(0.93 1)"><tspan x="159.03" y="1068.44">1</tspan><tspan x="196.88" y="1068.44">2</tspan></text>
<text font-size="73" transform="scale(0.93 1)"><tspan x="156.15" y="958.84">1</tspan><tspan x="194" y="958.84">4</tspan></text>
<text font-size="73" transform="scale(0.93 1)"><tspan x="157.18" y="849.24">1</tspan><tspan x="195.03" y="849.24">6</tspan></text>
<text font-size="73" transform="scale(0.93 1)"><tspan x="157.79" y="739.64">1</tspan><tspan x="195.64" y="739.64">8</tspan></text>
<text font-size="73" transform="scale(0.93 1)"><tspan x="157.79" y="630.04">2</tspan><tspan x="195.64" y="630.04">0</tspan></text>
<text font-size="73" transform="scale(0.93 1)"><tspan x="159.03" y="520.44">2</tspan><tspan x="196.88" y="520.44">2</tspan></text>
<text font-size="73" transform="scale(0.93 1)"><tspan x="156.15" y="410.84">2</tspan><tspan x="194" y="410.84">4</tspan></text>
<text font-size="73" transform="scale(0.93 1)"><tspan x="157.18" y="301.24">2</tspan><tspan x="195.03" y="301.24">6</tspan></text>
<text font-size="73" transform="scale(0.93 1)"><tspan x="157.79" y="191.64">2</tspan><tspan x="195.64" y="191.64">8</tspan></text>
<text font-size="73" transform="scale(0.93 1)"><tspan x="157.79" y="82.04">3</tspan><tspan x="195.64" y="82.04">0</tspan></text>
<text font-size="73" transform="scale(0.93 1)"><tspan x="257.96" y="1648.02" font-size="84.11">−</tspan><tspan x="303.53" y="1644.09">1</tspan><tspan x="341.38" y="1644.09">8</tspan><tspan x="379.23" y="1644.09">0</tspan></text>
<text font-size="73" transform="scale(0.93 1)"><tspan x="422.83" y="1647.79" font-size="83.42">−</tspan><tspan x="469.02" y="1644.09">1</tspan><tspan x="506.87" y="1644.09">5</tspan><tspan x="544.72" y="1644.09">0</tspan></text>
<text font-size="73" transform="scale(0.93 1)"><tspan x="582.85" y="1647.71" font-size="83.19">−</tspan><tspan x="628.64" y="1644.09">1</tspan><tspan x="666.49" y="1644.09">2</tspan><tspan x="704.34" y="1644.09">0</tspan></text>
<text font-size="73" transform="scale(0.93 1)"><tspan x="746.49" y="1647.79" font-size="83.42">−</tspan><tspan x="792.34" y="1644.09">9</tspan><tspan x="830.19" y="1644.09">0</tspan></text>
<text font-size="73" transform="scale(0.93 1)"><tspan x="917.04" y="1647.71" font-size="83.19">−</tspan><tspan x="961.79" y="1644.09">6</tspan><tspan x="999.64" y="1644.09">0</tspan></text>
<text font-size="73" transform="scale(0.93 1)"><tspan x="1054.42" y="1647.25" font-size="81.8">−</tspan><tspan x="1099.62" y="1644.09">3</tspan><tspan x="1137.47" y="1644.09">0</tspan></text>
<text font-size="73" transform="scale(0.93 1)"><tspan x="1256.64" y="1640.69">0</tspan></text>
<text font-size="73" transform="scale(0.93 1)"><tspan x="1389.46" y="1640.69">3</tspan><tspan x="1427.31" y="1640.69">0</tspan></text>
<text font-size="73" transform="scale(0.93 1)"><tspan x="1538.08" y="1640.69">6</tspan><tspan x="1575.93" y="1640.69">0</tspan></text>
<text font-size="73" transform="scale(0.93 1)"><tspan x="1688.15" y="1640.69">9</tspan><tspan x="1726" y="1640.69">0</tspan></text>
<text font-size="73" transform="scale(0.93 1)"><tspan x="1821.22" y="1640.69">1</tspan><tspan x="1859.07" y="1640.69">2</tspan><tspan x="1896.92" y="1640.69">0</tspan></text>
<text font-size="73" transform="scale(0.93 1)"><tspan x="1970.15" y="1640.69">1</tspan><tspan x="2008" y="1640.69">5</tspan><tspan x="2045.85" y="1640.69">0</tspan></text>
<text font-size="73" transform="scale(0.93 1)"><tspan x="2119.07" y="1640.69">1</tspan><tspan x="2156.92" y="1640.69">8</tspan><tspan x="2194.77" y="1640.69">0</tspan></text>
<text font-size="77"><tspan x="1000.78" y="1756.9">D</tspan><tspan x="1061.68" y="1756.9">i</tspan><tspan x="1077.34" y="1756.9">s</tspan><tspan x="1111.95" y="1756.9">t</tspan><tspan x="1130.69" y="1756.9">a</tspan><tspan x="1164.03" y="1756.9">n</tspan><tspan x="1204.77" y="1756.9">c</tspan><tspan x="1240.29" y="1756.9">e</tspan> <tspan x="1292.46" y="1761.4" font-size="81.4">[</tspan><tspan x="1317.87" y="1756.9">c</tspan><tspan x="1352.08" y="1756.9">m</tspan><tspan x="1411.76" y="1761.4" font-size="81.4">]</tspan></text>
<text font-size="77" transform="rotate(-90)"><tspan x="-1089.42" y="92.8">M</tspan><tspan x="-1017.41" y="92.8">a</tspan><tspan x="-983.91" y="92.8">g</tspan><tspan x="-945.77" y="92.8">n</tspan><tspan x="-907.91" y="92.8">e</tspan><tspan x="-873.45" y="92.8">t</tspan><tspan x="-853.72" y="92.8">i</tspan><tspan x="-832.63" y="92.8">c</tspan> <tspan x="-775.02" y="92.8">F</tspan><tspan x="-732.52" y="92.8">i</tspan><tspan x="-710.21" y="92.8">e</tspan><tspan x="-674.64" y="92.8">l</tspan><tspan x="-656.98" y="92.8">d</tspan> <tspan x="-596.74" y="97.3" font-size="81.4">[</tspan><tspan x="-573.17" y="92.8">n</tspan><tspan x="-530.39" y="92.8">T</tspan><tspan x="-486.64" y="97.3" font-size="81.4">]</tspan></text>
<text font-size="77"><tspan x="1947.8" y="154.25">0</tspan><tspan x="1987.24" y="154.25">°</tspan></text>
<text font-size="77"><tspan x="1928.04" y="248.66" font-size="77.58">−</tspan><tspan x="1967.63" y="246.05">1</tspan><tspan x="2009.8" y="246.05">0</tspan><tspan x="2047.04" y="246.05">°</tspan></text>
<text font-size="77"><tspan x="1951.68" y="342.95">1</tspan><tspan x="1993.8" y="342.95">0</tspan><tspan x="2031.24" y="342.95">°</tspan></text>
<text font-size="77"><tspan x="1950.41" y="437.15">3</tspan><tspan x="1993.8" y="437.15">0</tspan><tspan x="2031.24" y="437.15">°</tspan></text>
<text font-size="77"><tspan x="1922.15" y="530.69" font-size="77.36">−</tspan><tspan x="1961.41" y="528.15">3</tspan><tspan x="2004.75" y="528.15">0</tspan><tspan x="2041.14" y="528.15">°</tspan></text>
</svg>
</body></html>
